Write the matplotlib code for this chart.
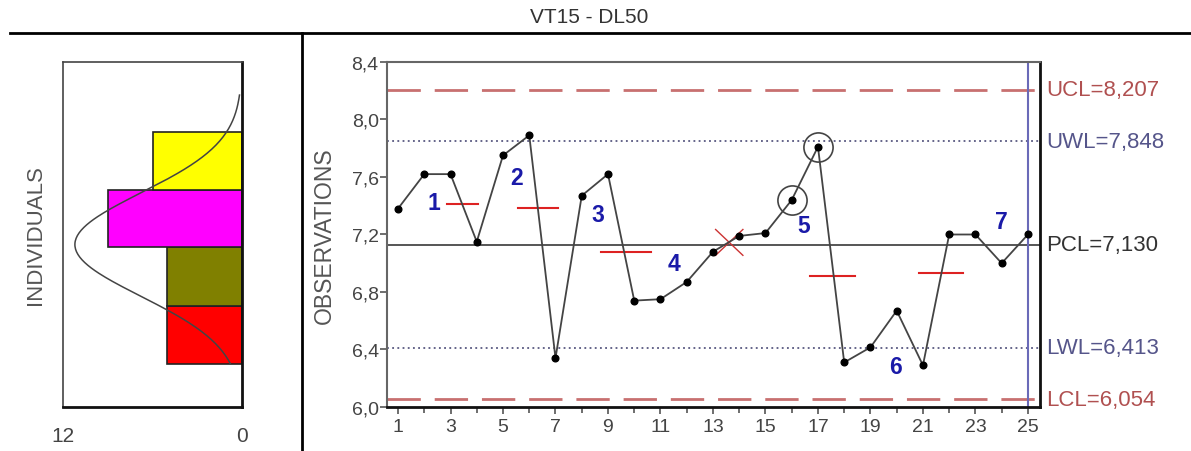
import numpy as np
import matplotlib
matplotlib.use("Agg")
from matplotlib import pyplot as plt

plt.rcParams['font.family'] = ['Liberation Sans', 'DejaVu Sans']

# observations
obs_x = np.arange(1, 26)
obs_y = [7.38, 7.62, 7.62, 7.15, 7.75, 7.89, 6.34, 7.47, 7.62, 6.74,
         6.75, 6.87, 7.08, 7.19, 7.21, 7.44, 7.81, 6.31, 6.415, 6.67,
         6.29, 7.20, 7.20, 7.00, 7.20]

# control limits
UCL, UWL, PCL, LWL, LCL = 8.207, 7.848, 7.130, 6.413, 6.054
limit_names = ['UCL', 'UWL', 'PCL', 'LWL', 'LCL']

# segment means (red bars): x start, x end, level
seg_x0 = [2.86, 5.57, 8.73, 16.7, 20.85]
seg_x1 = [4.05, 7.08, 10.63, 18.4, 22.54]
seg_y = [7.41, 7.385, 7.08, 6.91, 6.93]

# numbered annotations
note_txt = ['1', '2', '3', '4', '5', '6', '7']
note_x = [2.35, 5.5, 8.6, 11.5, 16.45, 19.95, 24.0]
note_y = [7.42, 7.6, 7.34, 7.0, 7.26, 6.28, 7.29]

# circled points and crossing mark
circled = [16, 17]
cross_x, cross_y = 13.62, 7.145

# histogram
bin_lo = [6.30, 6.70, 7.113, 7.51]
bin_hi = [6.70, 7.113, 7.51, 7.913]
bin_cnt = [5, 5, 9, 6]
bin_col = ['#ff0000', '#808000', '#ff00ff', '#ffff00']

fig = plt.figure(figsize=(11.91, 4.52), dpi=100)

# frame lines
fig.add_artist(plt.Line2D([10/1191, 1], [1-34/452]*2, color='black', lw=2))
fig.add_artist(plt.Line2D([302/1191]*2, [0, 1-34/452], color='black', lw=2))
fig.text(0.495, 0.962, 'VT15 - DL50', ha='center', va='center', fontsize=15, color='#333333')

# ---- main chart
ax = fig.add_axes([387/1191, 1-408/452, 653/1191, 345/452])
ax.set_xlim(0.58, 25.46)
ax.set_ylim(6.0, 8.4)

ax.axhline(UCL, color='#c87070', lw=2, dashes=(12, 5))
ax.axhline(LCL, color='#c87070', lw=2, dashes=(12, 5))
ax.axhline(UWL, color='#3a3a6a', lw=1.1, dashes=(1.2, 2.2))
ax.axhline(LWL, color='#3a3a6a', lw=1.1, dashes=(1.2, 2.2))
ax.axhline(PCL, color='#555555', lw=1.4)
ax.axvline(25, color='#6a6ab8', lw=1.5)

for a, b, yv in zip(seg_x0, seg_x1, seg_y):
    ax.plot([a, b], [yv, yv], color='#dd2222', lw=1.5)

ax.plot(obs_x, obs_y, color='#444444', lw=1.3, marker='o', ms=4.8,
        mfc='black', mec='black', zorder=5)

for i in circled:
    ax.plot(obs_x[i-1], obs_y[i-1], marker='o', ms=21, mfc='none',
            mec='#444444', mew=1.2, zorder=6)

ax.plot([cross_x-0.52, cross_x+0.52], [cross_y+0.09, cross_y-0.09], color='#cc3333', lw=1)
ax.plot([cross_x-0.52, cross_x+0.52], [cross_y-0.09, cross_y+0.09], color='#cc3333', lw=1)

for t, xx, yy in zip(note_txt, note_x, note_y):
    ax.text(xx, yy, t, color='#1a1aa8', fontsize=16.5, fontweight='bold',
            ha='center', va='center')

lab_col = ['#b05050', '#55558a', '#333333', '#55558a', '#b05050']
for nm, val, c in zip(limit_names, [UCL, UWL, PCL, LWL, LCL], lab_col):
    ax.text(1.01, (val-6.0)/2.4, f'{nm}={val:.3f}'.replace('.', ','),
            transform=ax.transAxes, color=c, fontsize=16, va='center', ha='left')

ax.set_xticks(np.arange(1, 26, 2))
ax.set_xticks(np.arange(1, 26), minor=True)
ax.set_yticks(np.arange(6.0, 8.41, 0.4))
ax.set_yticklabels([f'{v:.1f}'.replace('.', ',') for v in np.arange(6.0, 8.41, 0.4)])
ax.tick_params(axis='both', labelsize=14, colors='#555555', labelcolor='#444444', length=5, width=1.2)
ax.tick_params(axis='x', which='minor', length=4, width=1.2, colors='#555555')
ax.tick_params(axis='y', pad=1)
ax.tick_params(axis='x', pad=3)
ax.set_ylabel('OBSERVATIONS', fontsize=16.5, color='#555555', labelpad=11)
for s in ['left', 'top']:
    ax.spines[s].set_color('#666666')
    ax.spines[s].set_linewidth(1.5)
for s in ['right', 'bottom']:
    ax.spines[s].set_color('#111111')
    ax.spines[s].set_linewidth(2)

# ---- histogram
hx = fig.add_axes([63/1191, 1-408/452, 179/1191, 345/452])
hx.set_ylim(6.0, 8.4)
hx.set_xlim(12, 0)
for lo, hi, n, c in zip(bin_lo, bin_hi, bin_cnt, bin_col):
    hx.barh(lo, n, height=hi-lo, align='edge', color=c, edgecolor='#222222', lw=1.2)

# fitted normal curve from the centre line and 3-sigma limit
sigma = (UCL - PCL) / 3
scale = sum(bin_cnt) * (bin_hi[-1] - bin_lo[0]) / len(bin_cnt)
yy = np.linspace(6.30, 8.17, 200)
hx.plot(scale / (sigma*np.sqrt(2*np.pi)) * np.exp(-0.5*((yy-PCL)/sigma)**2), yy,
        color='#444444', lw=1.1)

hx.set_xticks([12, 0])
hx.set_yticks([])
hx.tick_params(axis='x', length=0, labelsize=15, labelcolor='#444444', pad=14)
hx.set_ylabel('INDIVIDUALS', fontsize=16, color='#555555', labelpad=12)
for s in ['left', 'top']:
    hx.spines[s].set_color('#444444')
    hx.spines[s].set_linewidth(1.2)
for s in ['right', 'bottom']:
    hx.spines[s].set_color('#111111')
    hx.spines[s].set_linewidth(2)

fig.savefig('out.png', dpi=100)
